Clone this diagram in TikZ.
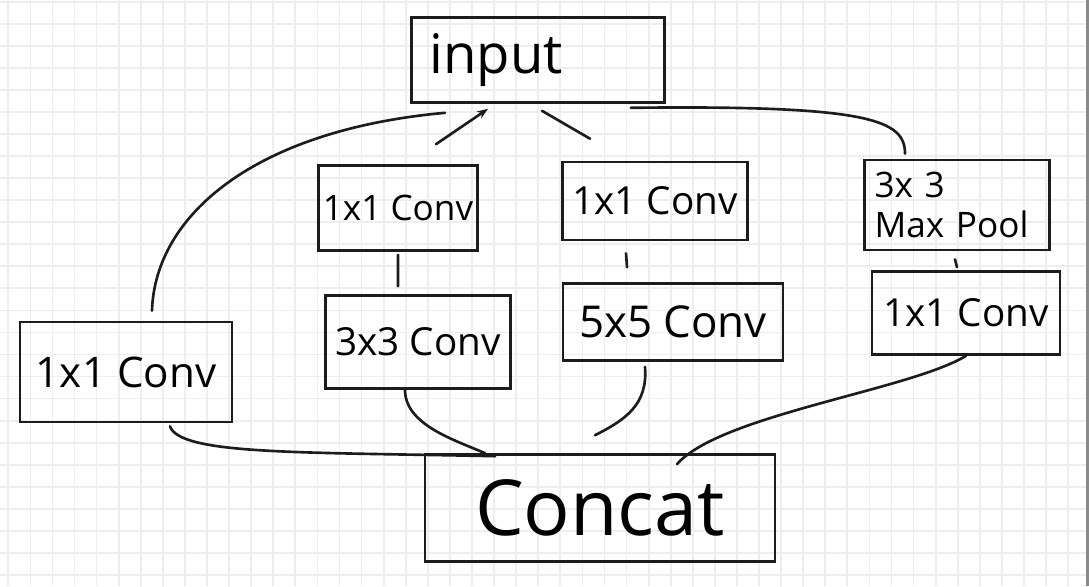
\documentclass[tikz,border=0pt]{standalone}
\usepackage{fontspec}
\setmainfont{Open Sans}
\usepackage{tikz}
\usetikzlibrary{arrows.meta,calc}
\definecolor{inkgray}{RGB}{28,28,28}
\definecolor{gridgray}{RGB}{238,238,238}
\definecolor{edgegray}{RGB}{138,138,138}
\newcommand{\fsz}[1]{\fontsize{#1}{#1}\selectfont}

\begin{document}
\begin{tikzpicture}[
      x=0.02cm, y=-0.02cm,
      box/.style={draw=inkgray, line width=1.5pt, align=center, inner sep=2pt},
      link/.style={draw=inkgray, line width=1.5pt, line cap=round},
      arrow/.style={link, -{Stealth[length=2.2mm]}},
      gridline/.style={draw=gridgray, line width=1pt}
    ]
      \useasboundingbox (0,0) rectangle (1089,586);
      \foreach \i in {0,...,49} \draw[gridline] ({8.3+22.08*\i},0) -- ++(0,586);
      \foreach \j in {0,...,26} \draw[gridline] (0,{1.7+22.05*\j}) -- ++(1089,0);
      \fill[edgegray] (1086,0) rectangle (1089,586);

      \node[box, font=\fsz{31}, align=left, text width=4.34cm, inner xsep=0.36cm,
            minimum height=1.7cm] (input) at (538,60) {input};
      \node[box, font=\fsz{24}, minimum width=4.24cm, minimum height=2cm] (conv1) at (126,372) {1x1 Conv};
      \node[box, font=\fsz{20}, minimum width=3.18cm, minimum height=1.7cm] (conv3r) at (398,208) {1x1 Conv};
      \node[box, font=\fsz{22}, minimum width=3.7cm, minimum height=1.86cm] (conv3) at (418,342) {3x3 Conv};
      \node[box, font=\fsz{22}, minimum width=3.7cm, minimum height=1.56cm] (conv5r) at (655,201) {1x1 Conv};
      \node[box, font=\fsz{25}, minimum width=4.4cm, minimum height=1.54cm] (conv5) at (673,322) {5x5 Conv};
      \node[box, font=\fontsize{20}{23}\selectfont, align=left, text width=3.3cm, inner xsep=0.2cm,
            minimum height=1.8cm] (pool) at (957,205) {3x 3\\Max Pool};
      \node[box, font=\fsz{22}, minimum width=3.76cm, minimum height=1.66cm] (convp) at (966,313) {1x1 Conv};
      \node[box, font=\fsz{44}, minimum width=7cm, minimum height=2.14cm] (concat) at (600,508) {Concat};

      % from input
      \draw[link] ([xshift=0.52cm,yshift=0.2cm]conv1.north) .. controls (155,215) and (255,130) .. ([xshift=-1.86cm,yshift=-0.18cm]input.south);
      \draw[arrow] ([xshift=0.76cm,yshift=0.4cm]conv3r.north) -- ([xshift=-1cm,yshift=-0.1cm]input.south);
      \draw[link] ([xshift=0.08cm,yshift=-0.14cm]input.south) -- ([xshift=-1.3cm,yshift=0.44cm]conv5r.north);
      \draw[link] ([xshift=-0.7cm,yshift=-0.08cm]input.south east) .. controls (870,105) and (905,120) .. ([xshift=-1.04cm,yshift=0.1cm]pool.north);

      % inside the branches
      \draw[link] ([yshift=-0.06cm]conv3r.south) -- ([xshift=-0.4cm,yshift=0.16cm]conv3.north);
      \draw[link] ([xshift=-0.58cm,yshift=-0.24cm]conv5r.south) -- ([xshift=-0.92cm,yshift=0.3cm]conv5.north);
      \draw[link] ([xshift=-0.04cm,yshift=-0.16cm]pool.south) -- ([xshift=-0.18cm,yshift=0.06cm]convp.north);

      % into concat
      \draw[link] ([xshift=0.88cm,yshift=-0.06cm]conv1.south) .. controls (180,455) and (300,452) .. ([xshift=-2.1cm,yshift=-0.06cm]concat.north);
      \draw[link] ([xshift=-0.26cm]conv3.south) .. controls (405,425) and (455,440) .. ([xshift=-2.3cm]concat.north);
      \draw[link] ([xshift=-0.56cm,yshift=-0.1cm]conv5.south) .. controls (648,405) and (625,420) .. ([xshift=-0.1cm,yshift=0.36cm]concat.north);
      \draw[link] (convp.south) .. controls (910,390) and (720,415) .. ([xshift=1.54cm,yshift=-0.22cm]concat.north);
    \end{tikzpicture}
\end{document}
